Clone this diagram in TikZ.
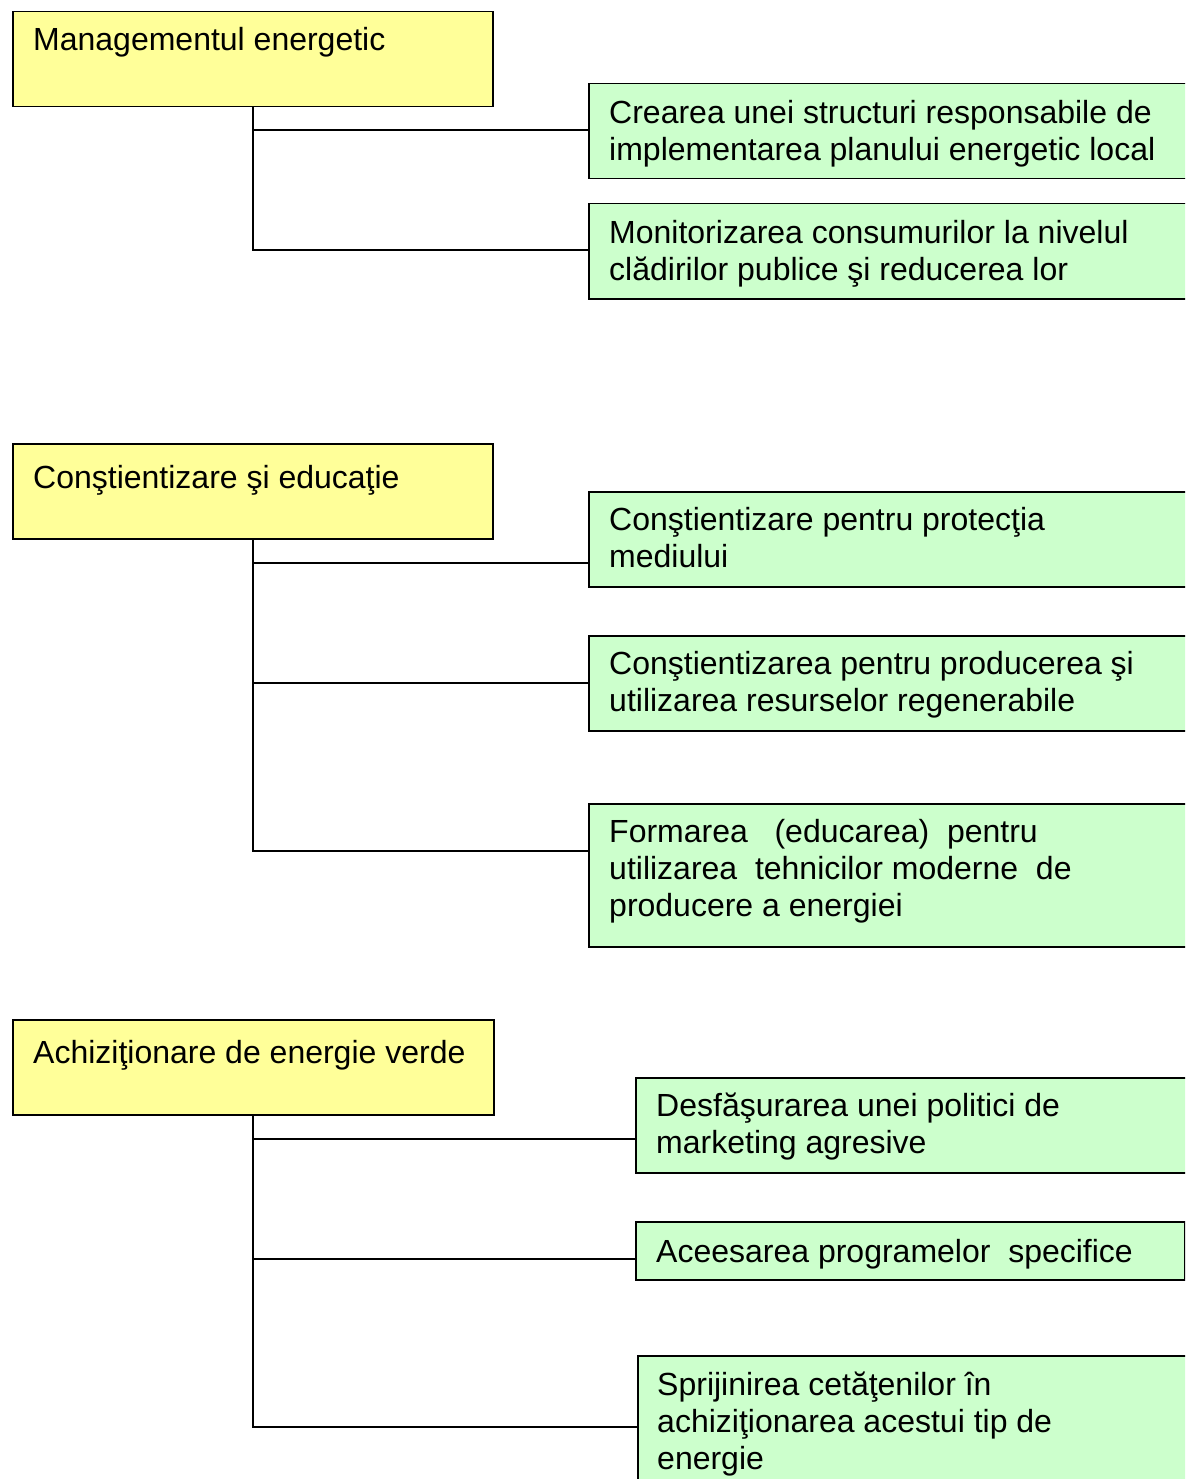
\documentclass[tikz,border=0pt]{standalone}
\usepackage{fontspec}
\setmainfont{Liberation Sans}
\definecolor{ybox}{HTML}{FFFF99}
\definecolor{gbox}{HTML}{CCFFCC}
\tikzset{
  ybox/.style={draw=black, line width=1.5pt, fill=ybox, anchor=north west, inner sep=0pt, minimum width=480pt, minimum height=95pt},
  gboxs/.style={draw=black, line width=1.5pt, fill=gbox, anchor=north west, inner sep=0pt, minimum height=95pt},
  txt/.style={anchor=north west, inner sep=0pt, align=left, font=\fontsize{32}{37}\selectfont},
  conn/.style={draw=black, line width=1.8pt}
}
\newcommand{\fl}{\rule{0pt}{26pt}}
\begin{document}
\begin{tikzpicture}[x=1pt, y=-1pt]
\useasboundingbox (0,0) rectangle (1185,1479);
\clip (0,0) rectangle (1185,1479);

% Section 1
\node[ybox] (y1) at (12,11) {};
\node[txt] (t1) at (33,50-26) {\fl Managementul energetic};
\node[gboxs, minimum width=610pt] (g1) at (588,83) {};
\node[txt] (tg1) at (609,123-26) {\fl Crearea unei structuri responsabile de\\implementarea planului energetic local};
\node[gboxs, minimum width=610pt] (g2) at (588,203) {};
\node[txt] (tg2) at (609,243-26) {\fl Monitorizarea consumurilor la nivelul\\clădirilor publice şi reducerea lor};
\coordinate (c1) at (588,130);
\coordinate (c2) at (588,250);
\draw[conn] (y1.south) -- (y1.south |- c2) -- (c2);
\draw[conn] (y1.south |- c1) -- (c1);

% Section 2
\node[ybox] (y2) at (12,443) {};
\node[txt] (t2) at (33,488-26) {\fl Conştientizare şi educaţie};
\node[gboxs, minimum width=610pt] (g3) at (588,491) {};
\node[txt] (tg3) at (609,530-26) {\fl Conştientizare pentru protecţia\\mediului};
\node[gboxs, minimum width=610pt] (g4) at (588,635) {};
\node[txt] (tg4) at (609,674-26) {\fl Conştientizarea pentru producerea şi\\utilizarea resurselor regenerabile};
\node[gboxs, minimum width=610pt, minimum height=143pt] (g5) at (588,803) {};
\node[txt] (tg5) at (609,842-26) {\fl Formarea\ \ \ (educarea)\ \ pentru\\utilizarea\ \ tehnicilor moderne\ \ de\\producere a energiei};
\coordinate (c3) at (588,563);
\coordinate (c4) at (588,683);
\coordinate (c5) at (588,851);
\draw[conn] (y2.south) -- (y2.south |- c5) -- (c5);
\draw[conn] (y2.south |- c3) -- (c3);
\draw[conn] (y2.south |- c4) -- (c4);

% Section 3
\node[ybox, minimum width=481pt] (y3) at (12,1019) {};
\node[txt] (t3) at (33,1063-26) {\fl Achiziţionare de energie verde};
\node[gboxs, minimum width=560pt] (g6) at (635,1077) {};
\node[txt] (tg6) at (656,1116-26) {\fl Desfăşurarea unei politici de\\marketing agresive};
\node[gboxs, minimum width=549pt, minimum height=58pt] (g7) at (635,1221) {};
\node[txt] (tg7) at (656,1262-26) {\fl Aceesarea programelor\ \ specifice};
\node[gboxs, minimum width=560pt, minimum height=160pt] (g8) at (637,1355) {};
\node[txt] (tg8) at (657,1395-26) {\fl Sprijinirea cetăţenilor în\\achiziţionarea acestui tip de\\energie};
\coordinate (c6) at (635,1139);
\coordinate (c7) at (635,1259);
\coordinate (c8) at (637,1427);
\draw[conn] (y3.south) -- (y3.south |- c8) -- (c8);
\draw[conn] (y3.south |- c6) -- (c6);
\draw[conn] (y3.south |- c7) -- (c7);
\end{tikzpicture}
\end{document}
